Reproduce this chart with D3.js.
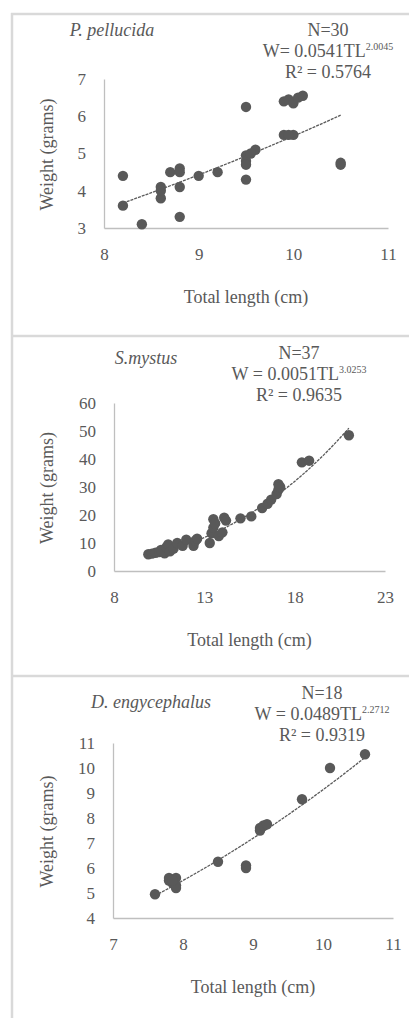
<!DOCTYPE html>
<html lang="en">
<head>
<meta charset="UTF-8">
<title>Length-weight relationships</title>
<script src="https://d3js.org/d3.v7.min.js"></script>
<style>
  body { margin: 0; background: #fff; }
  svg text { font-family: "Liberation Serif", "DejaVu Serif", serif; fill: #595959; }
</style>
</head>
<body>
<svg id="chart" width="409" height="1018"></svg>
<script>
// P. pellucida
var ppLength = [8.2, 8.2, 8.4, 8.6, 8.6, 8.6, 8.7, 8.8, 8.8, 8.8, 8.8, 9.0, 9.2, 9.5, 9.5, 9.5, 9.5, 9.5, 9.6, 9.55, 9.9, 9.95, 10.0, 10.05, 10.1, 9.9, 10.0, 9.95, 10.5, 10.5];
var ppWeight = [4.4, 3.6, 3.1, 4.1, 3.8, 4.0, 4.5, 4.6, 4.5, 4.1, 3.3, 4.4, 4.5, 6.25, 4.95, 4.8, 4.7, 4.3, 5.1, 5.0, 6.4, 6.45, 6.35, 6.5, 6.55, 5.5, 5.5, 5.5, 4.7, 4.75];
var ppXTicks = [8, 9, 10, 11];
var ppYTicks = [3, 4, 5, 6, 7];

// S. mystus
var smLength = [9.9, 10.1, 10.3, 10.5, 10.6, 10.8, 10.9, 11.0, 11.1, 11.3, 11.5, 11.8, 12.0, 12.4, 12.5, 12.6, 13.3, 13.4, 13.5, 13.5, 13.6, 13.8, 14.0, 14.1, 14.2, 15.0, 15.6, 16.2, 16.5, 16.7, 17.0, 17.1, 17.1, 17.2, 18.4, 18.8, 21.0];
var smWeight = [6.0, 6.2, 6.5, 6.8, 7.5, 6.3, 8.5, 9.5, 7.0, 8.0, 10.0, 9.0, 11.2, 9.0, 10.8, 11.5, 10.0, 13.5, 15.5, 18.5, 17.0, 12.5, 13.8, 19.0, 18.0, 18.8, 19.5, 22.5, 24.0, 25.5, 27.5, 29.0, 31.0, 30.0, 38.8, 39.4, 48.5];
var smXTicks = [8, 13, 18, 23];
var smYTicks = [0, 10, 20, 30, 40, 50, 60];

// D. engycephalus
var deLength = [7.6, 7.8, 7.8, 7.85, 7.9, 7.9, 7.9, 7.85, 8.5, 8.9, 8.9, 9.1, 9.1, 9.15, 9.2, 9.7, 10.1, 10.6];
var deWeight = [4.95, 5.6, 5.5, 5.4, 5.6, 5.3, 5.2, 5.5, 6.25, 6.1, 6.0, 7.6, 7.5, 7.7, 7.75, 8.75, 10.0, 10.55];
var deXTicks = [7, 8, 9, 10, 11];
var deYTicks = [4, 5, 6, 7, 8, 9, 10, 11];

// fitted power curves W = a * TL^b (from the printed equations)
var fitA = [0.0541, 0.0051, 0.0489];
var fitB = [2.0045, 3.0253, 2.2712];
var fitN = ["N=30", "N=37", "N=18"];
var fitEq = ["W= 0.0541TL", "W = 0.0051TL", "W = 0.0489TL"];
var fitExp = ["2.0045", "3.0253", "2.2712"];
var fitR2 = ["R\u00b2 = 0.5764", "R\u00b2 = 0.9635", "R\u00b2 = 0.9319"];
var species = ["P. pellucida", "S.mystus", "D. engycephalus"];

var svg = d3.select("#chart");
var serif = "Liberation Serif";

var panels = [
  { xs: ppLength, ys: ppWeight, xt: ppXTicks, yt: ppYTicks,
    x: [104, 388], y: [228, 79], titleX: 112, titleY: 36, infoX: 328, infoY: 36 },
  { xs: smLength, ys: smWeight, xt: smXTicks, yt: smYTicks,
    x: [114, 385], y: [571, 403], titleX: 146, titleY: 364, infoX: 299, infoY: 359 },
  { xs: deLength, ys: deWeight, xt: deXTicks, yt: deYTicks,
    x: [113, 393], y: [918, 743], titleX: 151, titleY: 708, infoX: 322, infoY: 699 }
];

// panel frames
var frameCol = "#d9d9d9";
svg.append("line").attr("x1", 12).attr("x2", 12).attr("y1", 13).attr("y2", 1018)
   .attr("stroke", frameCol).attr("stroke-width", 2.5);
[14, 336, 676].forEach(function(y) {
  svg.append("line").attr("x1", 11).attr("x2", 409).attr("y1", y).attr("y2", y)
     .attr("stroke", frameCol).attr("stroke-width", 2.5);
});

panels.forEach(function(p, i) {
  var xScale = d3.scaleLinear().domain(d3.extent(p.xt)).range(p.x);
  var yScale = d3.scaleLinear().domain(d3.extent(p.yt)).range(p.y);
  var g = svg.append("g");

  // axes
  var xAxis = g.append("g")
    .attr("transform", "translate(0," + p.y[0] + ")")
    .call(d3.axisBottom(xScale).tickValues(p.xt).tickFormat(d3.format("d")).tickSize(0).tickPadding(20));
  var yAxis = g.append("g")
    .attr("transform", "translate(" + p.x[0] + ",0)")
    .call(d3.axisLeft(yScale).tickValues(p.yt).tickFormat(d3.format("d")).tickSize(0).tickPadding(18));
  [xAxis, yAxis].forEach(function(a) {
    a.attr("font-family", serif).attr("font-size", 17);
    a.select(".domain").attr("stroke", "#bfbfbf").attr("stroke-width", 1.3);
    a.selectAll("text").attr("fill", "#595959");
  });

  // axis titles
  g.append("text")
    .attr("x", (p.x[0] + p.x[1]) / 2)
    .attr("y", p.y[0] + 75)
    .attr("text-anchor", "middle")
    .attr("font-size", 18)
    .text("Total length (cm)");
  g.append("text")
    .attr("transform", "translate(53," + ((p.y[0] + p.y[1]) / 2 + 1) + ") rotate(-90)")
    .attr("text-anchor", "middle")
    .attr("font-size", 18)
    .text("Weight (grams)");

  // trend line
  var xr = d3.extent(p.xs);
  var curve = d3.range(0, 41).map(function(k) {
    var t = xr[0] + (xr[1] - xr[0]) * k / 40;
    return [t, fitA[i] * Math.pow(t, fitB[i])];
  });
  g.append("path")
    .datum(curve)
    .attr("fill", "none")
    .attr("stroke", "#5a5a5a")
    .attr("stroke-width", 1.3)
    .attr("stroke-dasharray", "3,1")
    .attr("d", d3.line().x(function(d) { return xScale(d[0]); }).y(function(d) { return yScale(d[1]); }));

  // points
  g.selectAll(".pt")
    .data(p.xs.map(function(v, j) { return [v, p.ys[j]]; }))
    .enter().append("circle")
    .attr("class", "pt")
    .attr("cx", function(d) { return xScale(d[0]); })
    .attr("cy", function(d) { return yScale(d[1]); })
    .attr("r", 5.2)
    .attr("fill", "#595959");

  // species title
  g.append("text")
    .attr("x", p.titleX).attr("y", p.titleY)
    .attr("text-anchor", "middle")
    .attr("font-size", 18)
    .attr("font-style", "italic")
    .text(species[i]);

  // equation block
  g.append("text").attr("x", p.infoX).attr("y", p.infoY)
    .attr("text-anchor", "middle").attr("font-size", 18).text(fitN[i]);
  var eq = g.append("text").attr("x", p.infoX).attr("y", p.infoY + 21)
    .attr("text-anchor", "middle").attr("font-size", 18);
  eq.append("tspan").text(fitEq[i]);
  eq.append("tspan").attr("font-size", 10).attr("dy", -7).text(fitExp[i]);
  g.append("text").attr("x", p.infoX).attr("y", p.infoY + 42)
    .attr("text-anchor", "middle").attr("font-size", 18).text(fitR2[i]);
});
</script>
</body>
</html>
